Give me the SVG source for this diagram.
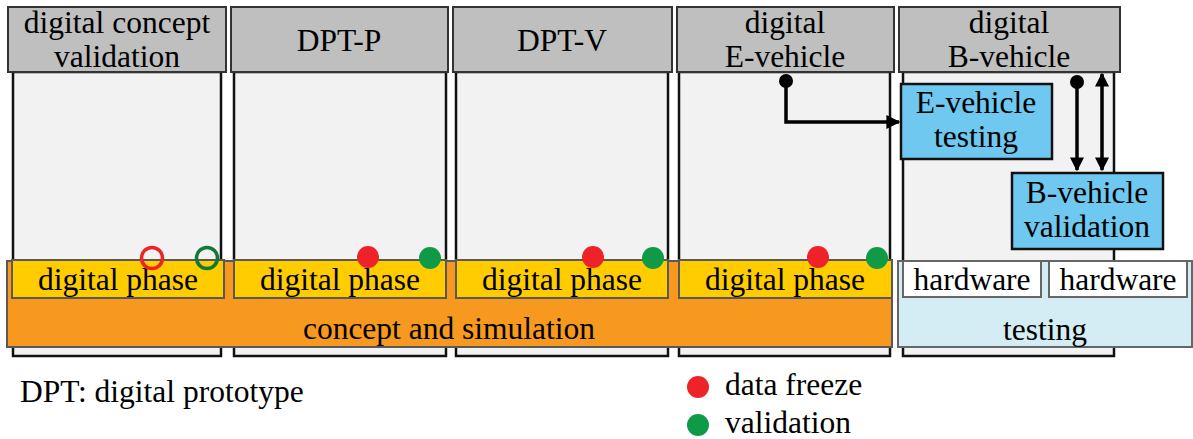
<svg xmlns="http://www.w3.org/2000/svg" width="1193" height="439" viewBox="0 0 1193 439" font-family="Liberation Serif, serif">
  <style>
    text { font-family: 'Liberation Serif', 'Times New Roman', serif; font-size: 31.5px; fill: #000; text-anchor: middle; }
    .body { fill: #f2f2f2; stroke: #111; stroke-width: 2.5; }
    .head { fill: #bfbfbf; stroke: #333; stroke-width: 2; }
    .phase { fill: #ffcc00; stroke: #595959; stroke-width: 2; }
    .concept { fill: #f7991f; stroke: #595959; stroke-width: 2; }
    .test { fill: #d4ecf3; stroke: #666; stroke-width: 2; }
    .hw { fill: #fff; stroke: #666; stroke-width: 2; }
    .task { fill: #6ec8ef; stroke: #111; stroke-width: 2.5; }
    .freeze { fill: #ee2229; }
    .valid { fill: #0f9a48; }
    .freeze-open { fill: none; stroke: #ee2229; stroke-width: 3.5; }
    .valid-open { fill: none; stroke: #0f7a38; stroke-width: 3.5; }
    .conn { fill: none; stroke: #000; stroke-width: 3.5; }
    .legend { text-anchor: start; }
  </style>
  <defs>
    <marker id="head" viewBox="0 0 10 10" refX="9" refY="5" markerWidth="4" markerHeight="4" orient="auto-start-reverse" markerUnits="strokeWidth">
      <path d="M0,0 L10,5 L0,10 z" fill="#000"/>
    </marker>
    <marker id="dot" viewBox="0 0 10 10" refX="5" refY="5" markerWidth="4" markerHeight="4" markerUnits="strokeWidth">
      <circle cx="5" cy="5" r="5" fill="#000"/>
    </marker>
  </defs>

  <!-- column bodies -->
  <g id="columns">
    <rect class="body" x="13" y="72" width="208" height="284"/>
    <rect class="body" x="234" y="72" width="212" height="284"/>
    <rect class="body" x="456" y="72" width="212" height="284"/>
    <rect class="body" x="679" y="72" width="211" height="284"/>
    <rect class="body" x="903" y="72" width="211" height="284"/>
  </g>

  <!-- column headers -->
  <g id="hdr-concept-validation">
    <rect class="head" x="8" y="7" width="218" height="65"/>
    <text x="117" y="33">digital concept</text>
    <text x="117" y="67">validation</text>
  </g>
  <g id="hdr-dpt-p">
    <rect class="head" x="231" y="7" width="217" height="65"/>
    <text x="339" y="51">DPT-P</text>
  </g>
  <g id="hdr-dpt-v">
    <rect class="head" x="453" y="7" width="219" height="65"/>
    <text x="562" y="51">DPT-V</text>
  </g>
  <g id="hdr-e-vehicle">
    <rect class="head" x="677" y="7" width="217" height="65"/>
    <text x="785" y="33">digital</text>
    <text x="785" y="67">E-vehicle</text>
  </g>
  <g id="hdr-b-vehicle">
    <rect class="head" x="899" y="7" width="221" height="65"/>
    <text x="1009" y="33">digital</text>
    <text x="1009" y="67">B-vehicle</text>
  </g>

  <!-- concept and simulation bar -->
  <g id="concept-simulation">
    <rect class="concept" x="7" y="261" width="885" height="86"/>
    <text x="449" y="339">concept and simulation</text>
  </g>

  <!-- digital phases -->
  <g id="phase-1">
    <rect class="phase" x="12" y="260" width="212" height="38"/>
    <text x="118" y="290">digital phase</text>
  </g>
  <g id="phase-2">
    <rect class="phase" x="234" y="260" width="212" height="38"/>
    <text x="340" y="290">digital phase</text>
  </g>
  <g id="phase-3">
    <rect class="phase" x="456" y="260" width="212" height="38"/>
    <text x="562" y="290">digital phase</text>
  </g>
  <g id="phase-4">
    <rect class="phase" x="679" y="260" width="213" height="38"/>
    <text x="785" y="290">digital phase</text>
  </g>

  <!-- testing bar -->
  <g id="testing">
    <rect class="test" x="898" y="261" width="294" height="86"/>
    <text x="1045" y="340">testing</text>
  </g>
  <g id="hardware-1">
    <rect class="hw" x="903" y="261" width="138" height="36"/>
    <text x="972" y="290">hardware</text>
  </g>
  <g id="hardware-2">
    <rect class="hw" x="1049" y="261" width="138" height="36"/>
    <text x="1118" y="290">hardware</text>
  </g>

  <!-- milestones -->
  <g id="milestones">
    <circle class="freeze-open" cx="152" cy="258" r="10.5"/>
    <circle class="valid-open" cx="207" cy="258" r="10.5"/>
    <circle class="freeze" cx="368" cy="257" r="11"/>
    <circle class="valid" cx="430" cy="258" r="11"/>
    <circle class="freeze" cx="593" cy="257" r="11"/>
    <circle class="valid" cx="653" cy="258" r="11"/>
    <circle class="freeze" cx="818" cy="257" r="11"/>
    <circle class="valid" cx="877" cy="258" r="11"/>
  </g>

  <!-- test tasks -->
  <g id="e-vehicle-testing">
    <rect class="task" x="901" y="84" width="151" height="75"/>
    <text x="976" y="113">E-vehicle</text>
    <text x="976" y="147">testing</text>
  </g>
  <g id="b-vehicle-validation">
    <rect class="task" x="1012" y="173" width="151" height="76"/>
    <text x="1087" y="203">B-vehicle</text>
    <text x="1087" y="237">validation</text>
  </g>

  <!-- connectors -->
  <g id="connectors">
    <path class="conn" d="M786,81 V122 H899" marker-start="url(#dot)" marker-end="url(#head)"/>
    <path class="conn" d="M1077,82 V170" marker-start="url(#dot)" marker-end="url(#head)"/>
    <path class="conn" d="M1102,74 V170" marker-start="url(#head)" marker-end="url(#head)"/>
  </g>

  <!-- legend -->
  <g id="legend">
    <text class="legend" x="20" y="402">DPT: digital prototype</text>
    <circle class="freeze" cx="698" cy="387" r="11"/>
    <text class="legend" x="725" y="395">data freeze</text>
    <circle class="valid" cx="698" cy="425" r="11"/>
    <text class="legend" x="725" y="433">validation</text>
  </g>
</svg>
